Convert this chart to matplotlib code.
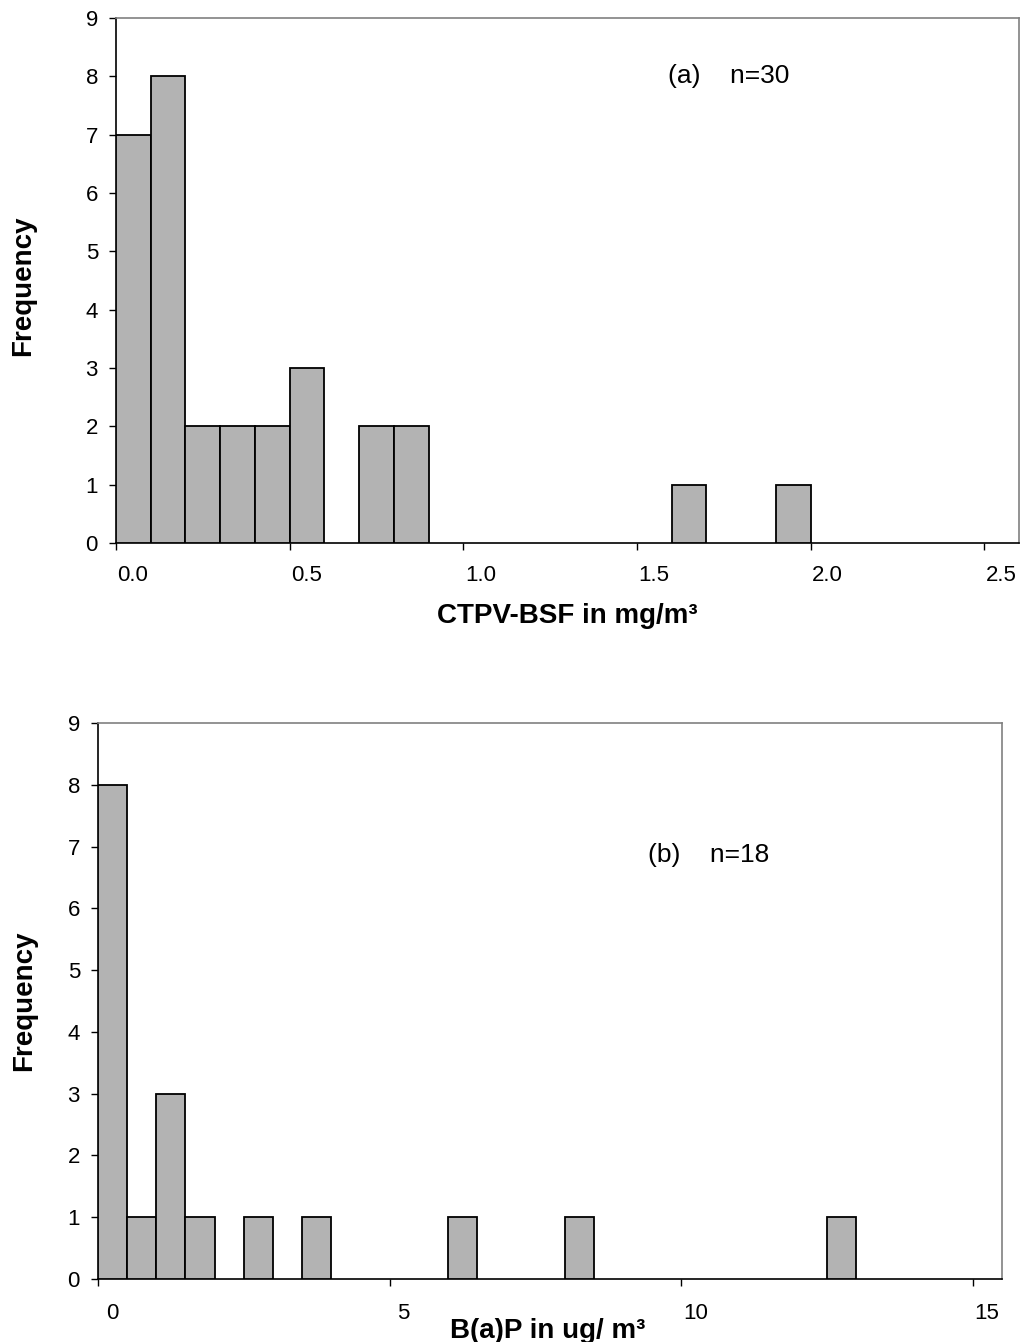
import numpy as np
import matplotlib
matplotlib.use('Agg')
from matplotlib import pyplot as plt
from matplotlib.transforms import ScaledTranslation

# (a) CTPV-BSF, bins of 0.1 mg/m3 (left edges) and counts
ctpv_bins = [0.0, 0.1, 0.2, 0.3, 0.4, 0.5, 0.7, 0.8, 1.6, 1.9]
ctpv_counts = [7, 8, 2, 2, 2, 3, 2, 2, 1, 1]
ctpv_ticks = [0.0, 0.5, 1.0, 1.5, 2.0, 2.5]
ctpv_ticklabels = ['0.0', '0.5', '1.0', '1.5', '2.0', '2.5']

# (b) B(a)P, bins of 0.5 ug/m3 (left edges) and counts
bap_bins = [0.0, 0.5, 1.0, 1.5, 2.5, 3.5, 6.0, 8.0, 12.5]
bap_counts = [8, 1, 3, 1, 1, 1, 1, 1, 1]
bap_ticks = [0, 5, 10, 15]
bap_ticklabels = ['0', '5', '10', '15']

freq_ticks = list(range(10))

plt.rcParams['font.family'] = ['Liberation Sans', 'DejaVu Sans']

fig = plt.figure(figsize=(10.23, 13.42), dpi=100)
ax1 = fig.add_axes([116 / 1023, 1 - 543 / 1342, 903 / 1023, 525 / 1342])
ax2 = fig.add_axes([98 / 1023, 1 - 1279 / 1342, 904 / 1023, 556 / 1342])

bar_kw = dict(align='edge', color='#b3b3b3', edgecolor='black',
              linewidth=1.3, zorder=3)


def style_axes(ax, xlim, xticks, xlabels, xpad, xshift):
    ax.set_xlim(*xlim)
    ax.set_ylim(0, 9)
    ax.set_yticks(freq_ticks)
    ax.set_xticks(xticks)
    ax.set_xticklabels(xlabels)
    ax.tick_params(axis='y', direction='out', length=5, width=1,
                   labelsize=16, pad=8)
    ax.tick_params(axis='x', direction='out', length=5, width=1,
                   labelsize=16, pad=xpad)
    for sp in ('top', 'right'):
        ax.spines[sp].set_color('#808080')
        ax.spines[sp].set_linewidth(1.2)
    for sp in ('left', 'bottom'):
        ax.spines[sp].set_color('black')
        ax.spines[sp].set_linewidth(1.2)
    # tick labels sit a bit to the right of their ticks in the original
    off = ScaledTranslation(xshift / 100, 0, fig.dpi_scale_trans)
    for lab in ax.get_xticklabels():
        lab.set_transform(lab.get_transform() + off)
    ax.set_ylabel('Frequency', fontsize=20, fontweight='bold')


ax1.bar(ctpv_bins, ctpv_counts, width=0.1, **bar_kw)
style_axes(ax1, (0, 2.6), ctpv_ticks, ctpv_ticklabels, 11, 17)
ax1.yaxis.set_label_coords(-0.088, 0.49)
ax1.set_xlabel('CTPV-BSF in mg/m³', fontsize=20, fontweight='bold')
ax1.xaxis.label.set_va('baseline')
ax1.xaxis.set_label_coords(0.5, -0.152)
ax1.text(1.59, 8.0, '(a)    n=30', fontsize=19, va='center', ha='left')

ax2.bar(bap_bins, bap_counts, width=0.5, **bar_kw)
style_axes(ax2, (0, 15.5), bap_ticks, bap_ticklabels, 12.5, 14)
ax2.yaxis.set_label_coords(-0.067, 0.5)
ax2.set_xlabel('B(a)P in ug/ m³', fontsize=20, fontweight='bold')
ax2.xaxis.label.set_va('baseline')
ax2.xaxis.set_label_coords(0.497, -0.106)
ax2.text(9.43, 6.86, '(b)    n=18', fontsize=19, va='center', ha='left')

plt.savefig('out.png', dpi=100)
